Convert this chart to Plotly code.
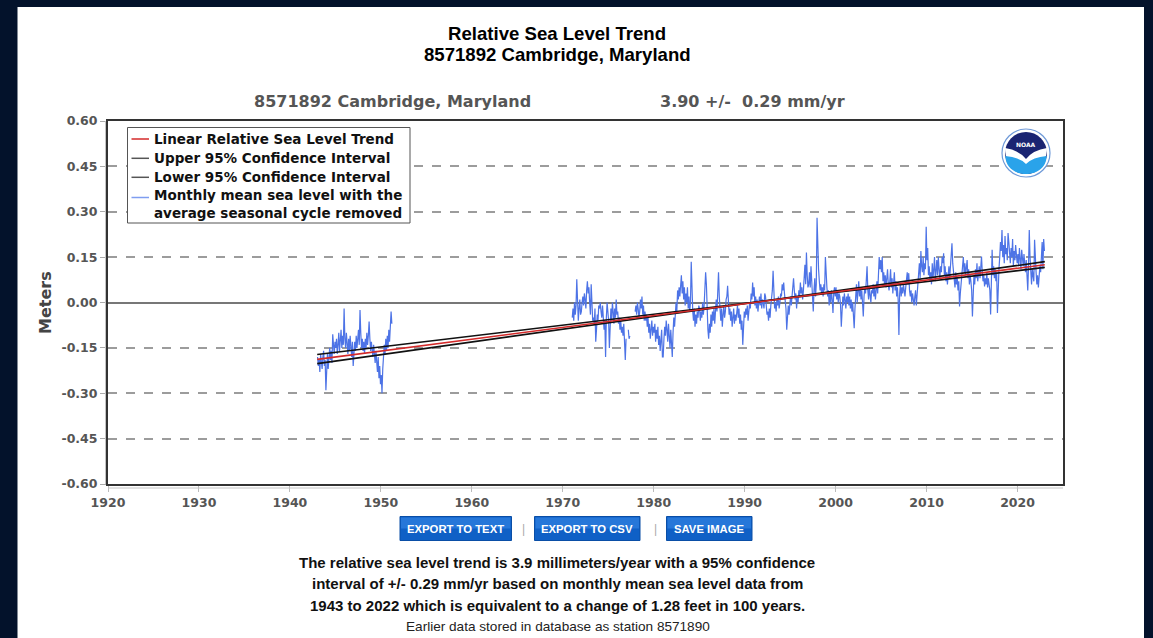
import plotly.graph_objects as go

# ---------------- data ----------------
seg1_start = 1943
seg1_values = [
    -0.18, -0.21, -0.19, -0.23, -0.17, -0.20, -0.22, -0.18, -0.16, -0.21, -0.19, -0.29,   # 1943
    -0.20, -0.17, -0.22, -0.18, -0.15, -0.19, -0.16, -0.20, -0.105, -0.14, -0.17, -0.13,  # 1944
    -0.15, -0.12, -0.17, -0.14, -0.10, -0.16, -0.13, -0.09, -0.15, -0.11, -0.14, -0.02,   # 1945
    -0.12, -0.15, -0.10, -0.14, -0.17, -0.12, -0.16, -0.11, -0.15, -0.18, -0.13, -0.21,   # 1946
    -0.17, -0.13, -0.16, -0.11, -0.15, -0.12, -0.09, -0.14, -0.025, -0.10, -0.15, -0.12,  # 1947
    -0.16, -0.13, -0.17, -0.12, -0.15, -0.10, -0.14, -0.11, -0.063, -0.12, -0.16, -0.13,  # 1948
    -0.15, -0.18, -0.14, -0.17, -0.20, -0.16, -0.19, -0.23, -0.18, -0.25, -0.21, -0.27,   # 1949
    -0.24, -0.30, -0.22, -0.18, -0.14, -0.17, -0.12, -0.16, -0.11, -0.15, -0.09, -0.13,   # 1950
    -0.08, -0.03, -0.07,                                                                  # 1951
]

seg2_start = 1971
seg2_values = [
    -0.05, -0.02, -0.06, 0.00, -0.04, -0.01, 0.077, -0.03, -0.06, -0.02, 0.01, -0.04,     # 1971
    -0.03, 0.00, 0.02, -0.01, 0.03, 0.01, -0.02, 0.04, 0.07, 0.03, 0.05, 0.00,            # 1972
    -0.04, 0.06, -0.03, -0.06, -0.05, -0.07, -0.02, -0.13, -0.09, -0.04, -0.06, -0.01,    # 1973
    -0.02, 0.00, -0.03, -0.05, -0.01, -0.04, -0.09, -0.06, -0.18, -0.05, 0.00, -0.03,     # 1974
    -0.06, -0.15, -0.04, -0.02, -0.06, 0.00, -0.03, -0.07, -0.02, -0.05, 0.01, -0.04,     # 1975
    -0.03, -0.07, -0.05, -0.09, -0.06, -0.10, -0.08, -0.11, -0.07, -0.14, -0.19, -0.12,   # 1976
    None, None, -0.09, -0.12, -0.11, None, None, None, None, None, None, -0.03,           # 1977
    -0.01, -0.04, 0.00, -0.02, -0.05, -0.03, 0.01, -0.02, 0.02, -0.04, -0.01, -0.06,      # 1978
    -0.03, -0.06, -0.04, -0.08, -0.05, -0.10, -0.07, -0.12, -0.09, -0.06, -0.11, -0.08,   # 1979
    -0.10, -0.07, -0.13, -0.09, -0.12, -0.08, -0.14, -0.11, -0.16, -0.13, -0.09, -0.18,   # 1980
    -0.18, -0.12, -0.08, -0.11, -0.06, -0.09, -0.13, -0.07, -0.10, -0.15, -0.09, -0.17,   # 1981
    -0.18, -0.10, -0.05, -0.08, -0.02, 0.00, -0.03, 0.04, 0.01, 0.05, 0.02, 0.06,         # 1982
    0.09, 0.03, 0.07, 0.01, 0.05, -0.01, 0.03, 0.00, 0.05, -0.02, 0.02, -0.03,            # 1983
    0.00, 0.135, 0.02, -0.03, -0.06, -0.02, -0.08, -0.04, -0.07, -0.03, -0.05, -0.01,     # 1984
    -0.02, -0.06, -0.03, -0.05, 0.00, -0.04, -0.01, 0.03, 0.10, 0.06, -0.05, -0.09,       # 1985
    -0.12, -0.07, -0.10, -0.04, -0.08, -0.03, -0.06, -0.02, -0.07, -0.04, 0.01, -0.03,    # 1986
    0.04, 0.10, 0.02, -0.03, -0.06, -0.02, -0.08, -0.04, -0.01, -0.05, -0.03, 0.01,       # 1987
    0.02, 0.055, -0.01, -0.04, -0.02, -0.06, -0.03, -0.08, -0.05, -0.02, -0.07, -0.04,    # 1988
    -0.06, -0.03, -0.01, -0.05, -0.02, -0.07, -0.04, -0.09, -0.06, -0.14, -0.08, -0.03,   # 1989
    -0.05, -0.02, -0.04, -0.01, -0.06, -0.03, 0.00, -0.02, 0.03, 0.01, 0.066, 0.02,       # 1990
    0.05, -0.01, 0.02, -0.02, 0.01, -0.03, 0.00, 0.02, -0.01, 0.03, -0.02, 0.01,          # 1991
    0.00, -0.02, 0.03, 0.02, -0.01, -0.04, -0.03, -0.06, -0.02, -0.05, -0.01, 0.02,       # 1992
    0.04, 0.105, 0.01, -0.02, 0.00, -0.03, 0.01, -0.01, 0.02, -0.02, 0.00, 0.03,          # 1993
    0.02, 0.06, 0.04, 0.066, 0.03, 0.01, -0.02, -0.09, -0.05, -0.01, -0.04, 0.00,         # 1994
    0.02, -0.01, 0.03, 0.05, 0.08, 0.04, 0.01, 0.03, -0.02, 0.02, 0.00, 0.04,             # 1995
    0.02, 0.066, 0.03, 0.05, 0.01, 0.04, 0.08, 0.125, 0.06, 0.165, 0.09, 0.05,            # 1996
    0.06, 0.10, 0.05, 0.12, 0.07, 0.03, -0.03, 0.04, 0.08, 0.02, 0.06, 0.28,              # 1997
    0.13, 0.11, 0.07, 0.04, 0.06, 0.03, 0.05, 0.02, 0.06, 0.04, 0.15, 0.08,               # 1998
    0.05, 0.02, 0.04, -0.01, 0.03, 0.00, 0.04, 0.01, -0.035, 0.03, 0.05, 0.02,            # 1999
    0.05, 0.01, 0.04, 0.00, 0.03, 0.02, -0.01, -0.08, -0.02, 0.02, -0.01, 0.03,           # 2000
    0.01, -0.02, 0.02, 0.00, 0.03, -0.01, 0.02, -0.02, 0.01, -0.03, 0.00, -0.05,          # 2001
    -0.085, -0.02, 0.03, 0.06, 0.00, 0.04, 0.07, 0.02, 0.05, 0.01, 0.04, 0.00,            # 2002
    -0.046, 0.02, 0.05, 0.03, 0.07, 0.12, 0.04, 0.01, 0.05, 0.02, 0.00, 0.04,             # 2003
    0.03, 0.06, 0.02, 0.05, 0.01, 0.04, 0.07, 0.03, 0.09, 0.15, 0.11, 0.14,               # 2004
    0.10, 0.15, 0.07, 0.10, 0.06, 0.09, 0.05, 0.08, 0.11, 0.06, 0.04, 0.07,               # 2005
    0.11, 0.05, 0.08, 0.03, 0.06, 0.10, 0.04, 0.07, 0.02, 0.05, 0.01, -0.107,             # 2006
    0.03, 0.06, 0.02, 0.05, 0.03, 0.06, 0.04, 0.02, 0.05, 0.07, 0.10, 0.06,               # 2007
    0.097, 0.04, 0.02, 0.04, 0.00, 0.03, 0.01, -0.01, 0.02, 0.04, -0.01, 0.03,            # 2008
    0.06, 0.10, 0.13, 0.08, 0.17, 0.12, 0.10, 0.15, 0.09, 0.13, 0.11, 0.25,               # 2009
    0.14, 0.18, 0.09, 0.12, 0.07, 0.10, 0.06, 0.13, 0.08, 0.11, 0.15, 0.07,               # 2010
    0.10, 0.14, 0.09, 0.15, 0.11, 0.08, 0.12, 0.10, 0.15, 0.13, 0.163, 0.09,              # 2011
    0.12, 0.07, 0.10, 0.06, 0.09, 0.12, 0.08, 0.11, 0.14, 0.196, 0.13, 0.10,              # 2012
    0.09, 0.05, 0.10, 0.06, 0.08, 0.04, 0.07, -0.013, 0.03, 0.06, 0.09, 0.12,             # 2013
    0.15, 0.10, 0.13, 0.09, 0.12, 0.14, 0.08, 0.11, 0.06, 0.09, 0.07, 0.04,               # 2014
    -0.046, 0.05, 0.09, 0.06, 0.11, 0.08, 0.13, 0.07, 0.10, 0.12, 0.08, 0.11,             # 2015
    0.152, 0.10, 0.07, 0.09, 0.053, 0.08, 0.06, 0.097, 0.05, 0.08, 0.06, 0.04,            # 2016
    -0.04, 0.10, 0.174, 0.09, 0.12, 0.08, 0.11, 0.07, 0.10, -0.035, 0.06, 0.11,           # 2017
    0.15, 0.20, 0.17, 0.24, 0.15, 0.19, 0.13, 0.22, 0.16, 0.18, 0.14, 0.23,               # 2018
    0.20, 0.16, 0.13, 0.18, 0.15, 0.21, 0.12, 0.17, 0.14, 0.19, 0.15, 0.13,               # 2019
    0.16, 0.12, 0.18, 0.14, 0.11, 0.174, 0.15, 0.12, 0.16, 0.13, 0.10, 0.14,              # 2020
    0.10, 0.04, 0.12, 0.24, 0.15, 0.09, 0.06, 0.11, 0.08, 0.07, 0.207, 0.12,              # 2021
    0.10, 0.06, 0.09, 0.05, 0.08, 0.12, 0.10, 0.14, 0.20, 0.11, 0.21, 0.17,               # 2022
]

trend_years = [1943.0, 2023.0]
trend_values = [-0.188, 0.125]
upper_ci_values = [-0.202, 0.135]
lower_ci_values = [-0.172, 0.116]

y_tick_values = [-0.60, -0.45, -0.30, -0.15, 0.00, 0.15, 0.30, 0.45, 0.60]
y_tick_labels = ["-0.60", "-0.45", "-0.30", "-0.15", "0.00", "0.15", "0.30", "0.45", "0.60"]
x_tick_values = [1920, 1930, 1940, 1950, 1960, 1970, 1980, 1990, 2000, 2010, 2020]

legend_labels = ["Linear Relative Sea Level Trend", "Upper 95% Confidence Interval",
                 "Lower 95% Confidence Interval",
                 "Monthly mean sea level with the<br>average seasonal cycle removed"]

# ---------------- build series ----------------
def monthly_times(start, values):
    return [start + (i + 0.5) / 12.0 for i in range(len(values))]

x_data = monthly_times(seg1_start, seg1_values) + [None] + monthly_times(seg2_start, seg2_values)
y_data = seg1_values + [None] + seg2_values

BLUE = "#4d73e6"
RED = "#d42a2a"
BLACK = "#111111"
NAVY = "#03122b"

W, H = 1153, 638
L, R, T, B = 108, 1063, 121, 484


def px(x):
    return (x - L) / (R - L)


def py(y):
    return (B - y) / (B - T)


fig = go.Figure()
fig.add_trace(go.Scatter(x=x_data, y=y_data, mode="lines", line=dict(color=BLUE, width=1.2),
                         connectgaps=False, showlegend=False, hoverinfo="skip"))
fig.add_trace(go.Scatter(x=trend_years, y=upper_ci_values, mode="lines",
                         line=dict(color=BLACK, width=1.6), showlegend=False))
fig.add_trace(go.Scatter(x=trend_years, y=lower_ci_values, mode="lines",
                         line=dict(color=BLACK, width=1.6), showlegend=False))
fig.add_trace(go.Scatter(x=trend_years, y=trend_values, mode="lines",
                         line=dict(color=RED, width=1.6), showlegend=False))

shapes = []
annotations = []

# white page panel
shapes.append(dict(type="rect", xref="paper", yref="paper", layer="below",
                   x0=px(17.5), x1=px(1144), y0=py(640), y1=py(7),
                   fillcolor="white", line=dict(width=0)))
# outer light axis lines
shapes.append(dict(type="line", xref="paper", yref="paper", x0=px(105.5), x1=px(105.5),
                   y0=py(484), y1=py(121), line=dict(color="#c4c4c4", width=1)))
shapes.append(dict(type="line", xref="paper", yref="paper", x0=px(108), x1=px(1063),
                   y0=py(488), y1=py(488), line=dict(color="#c4c4c4", width=1)))

# custom legend
shapes.append(dict(type="rect", xref="paper", yref="paper", x0=px(127.5), x1=px(410),
                   y0=py(223), y1=py(127.5), fillcolor="white",
                   line=dict(color="#555", width=1)))
legend_rows = [(139, 139, RED), (158.3, 158.3, "#555"), (177.3, 177.3, "#555"), (197.5, 204, "#7f9df0")]
for (line_y, text_y, col), lab in zip(legend_rows, legend_labels):
    shapes.append(dict(type="line", xref="paper", yref="paper", x0=px(131.5), x1=px(149),
                       y0=py(line_y), y1=py(line_y), line=dict(color=col, width=1.5)))
    annotations.append(dict(xref="paper", yref="paper", x=px(151.5), y=py(text_y),
                            xanchor="left", yanchor="middle", text=lab, showarrow=False,
                            align="left",
                            font=dict(family="DejaVu Sans", size=13.5, color="#111", weight="bold")))

# NOAA logo (pixel-sized shapes anchored at logo centre)
cx, cy = 1026, 153
def logo_shape(**kw):
    d = dict(xref="paper", yref="paper", xsizemode="pixel", ysizemode="pixel",
             xanchor=px(cx), yanchor=py(cy))
    d.update(kw)
    return d

shapes.append(logo_shape(type="circle", x0=-24, x1=24, y0=-24, y1=24, fillcolor="white",
                         line=dict(color="#6f9ad8", width=1.2)))
shapes.append(logo_shape(type="circle", x0=-21, x1=21, y0=-21, y1=21, fillcolor="#1a2472",
                         line=dict(width=0)))
shapes.append(logo_shape(type="path",
                         path="M -21,5 Q -7,3 0,-6 Q 7,3 21,5 C 21.5,-24 -21.5,-24 -21,5 Z",
                         fillcolor="white", line=dict(width=0)))
shapes.append(logo_shape(type="path",
                         path="M -20.6,-3 Q -7,-4 0,-11 Q 7,-4 20.6,-3 C 20.6,-27 -20.6,-27 -20.6,-3 Z",
                         fillcolor="#2aa3ea", line=dict(width=0)))
annotations.append(dict(xref="paper", yref="paper", x=px(cx), y=py(144), text="NOAA",
                        showarrow=False, xanchor="center", yanchor="middle",
                        font=dict(family="DejaVu Sans", size=6, color="white", weight="bold")))

# titles
annotations.append(dict(xref="paper", yref="paper", x=px(557), y=py(33), text="Relative Sea Level Trend",
                        showarrow=False, xanchor="center", yanchor="middle",
                        font=dict(family="Liberation Sans", size=18.6, color="#000", weight="bold")))
annotations.append(dict(xref="paper", yref="paper", x=px(557), y=py(55), text="8571892 Cambridge, Maryland",
                        showarrow=False, xanchor="center", yanchor="middle",
                        font=dict(family="Liberation Sans", size=18.6, color="#000", weight="bold")))
annotations.append(dict(xref="paper", yref="paper", x=px(392), y=py(101.5), text="8571892 Cambridge, Maryland",
                        showarrow=False, xanchor="center", yanchor="middle",
                        font=dict(family="DejaVu Sans", size=16, color="#555", weight="bold")))
annotations.append(dict(xref="paper", yref="paper", x=px(752), y=py(101.5),
                        text="3.90 +/-\u00a0\u00a00.29 mm/yr",
                        showarrow=False, xanchor="center", yanchor="middle",
                        font=dict(family="DejaVu Sans", size=16, color="#555", weight="bold")))
annotations.append(dict(xref="paper", yref="paper", x=px(45), y=py(303), text="Meters",
                        textangle=-90, showarrow=False, xanchor="center", yanchor="middle",
                        font=dict(family="DejaVu Sans", size=16, color="#444", weight="bold")))

# buttons
buttons = [("EXPORT TO TEXT", 400, 511.5), ("EXPORT TO CSV", 534.5, 640), ("SAVE IMAGE", 666.5, 752)]
by0, by1 = 516.5, 540.5
for label, bx0, bx1 in buttons:
    shapes.append(dict(type="rect", xref="paper", yref="paper", x0=px(bx0), x1=px(bx1),
                       y0=py(by1), y1=py(by0), fillcolor="#0f60c6",
                       line=dict(color="#0a4ea6", width=1)))
    shapes.append(dict(type="rect", xref="paper", yref="paper", x0=px(bx0 + 1), x1=px(bx1 - 1),
                       y0=py((by0 + by1) / 2), y1=py(by0 + 1), fillcolor="#2677d9",
                       line=dict(width=0)))
    annotations.append(dict(xref="paper", yref="paper", x=px((bx0 + bx1) / 2), y=py(528.5),
                            text=label, showarrow=False, xanchor="center", yanchor="middle",
                            font=dict(family="Liberation Sans", size=11.3, color="white", weight="bold")))
for sx in (523.3, 655):
    annotations.append(dict(xref="paper", yref="paper", x=px(sx), y=py(528.5), text="|",
                            showarrow=False, xanchor="center", yanchor="middle",
                            font=dict(family="Liberation Sans", size=12, color="#aaa")))

# description text
desc_lines = [
    ("The relative sea level trend is 3.9 millimeters/year with a 95% confidence", 562),
    ("interval of +/- 0.29 mm/yr based on monthly mean sea level data from", 583.5),
    ("1943 to 2022 which is equivalent to a change of 1.28 feet in 100 years.", 605),
]
for txt, yy in desc_lines:
    annotations.append(dict(xref="paper", yref="paper", x=px(557), y=py(yy), text=txt,
                            showarrow=False, xanchor="center", yanchor="middle",
                            font=dict(family="Liberation Sans", size=15, color="#111", weight="bold")))
annotations.append(dict(xref="paper", yref="paper", x=px(557.5), y=py(626),
                        text="Earlier data stored in database as station 8571890",
                        showarrow=False, xanchor="center", yanchor="middle",
                        font=dict(family="Liberation Sans", size=13.6, color="#222")))

fig.update_layout(
    width=W, height=H,
    margin=dict(l=L, r=W - R, t=T, b=H - B, pad=0),
    paper_bgcolor=NAVY, plot_bgcolor="white",
    showlegend=False,
    shapes=shapes, annotations=annotations,
    xaxis=dict(range=[1920, 2025], tickvals=x_tick_values, showgrid=False, zeroline=False,
               showline=True, mirror=True, linecolor="#333", linewidth=2,
               ticks="outside", ticklen=6, tickcolor="#bbb", tickwidth=1,
               tickfont=dict(family="DejaVu Sans", size=12.5, color="#555", weight="bold")),
    yaxis=dict(range=[-0.6, 0.6], tickvals=y_tick_values, ticktext=y_tick_labels,
               showgrid=True, gridcolor="#9c9c9c", gridwidth=2, griddash="9px,9px",
               zeroline=True, zerolinecolor="#777", zerolinewidth=1.5,
               showline=True, mirror=True, linecolor="#333", linewidth=2,
               ticks="outside", ticklen=6, tickcolor="#aaa", tickwidth=1,
               tickfont=dict(family="DejaVu Sans", size=12.5, color="#555", weight="bold")),
)

fig.write_html(
    "out.html",
    config={"displayModeBar": False},
    post_script=("document.body.style.margin='0';document.body.style.padding='0';"
                 "document.body.style.overflow='hidden';"
                 "document.body.style.background='" + NAVY + "';"),
)
